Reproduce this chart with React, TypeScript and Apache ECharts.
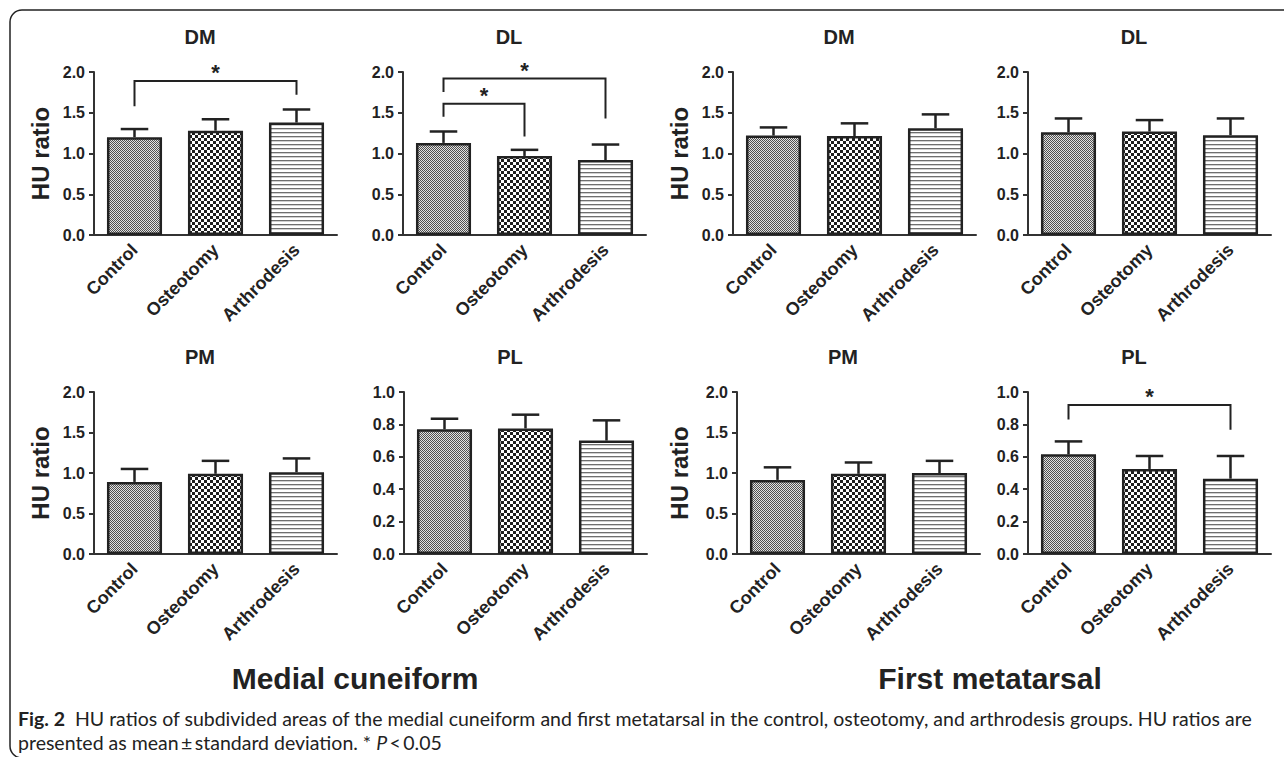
import React, { useEffect, useRef } from 'react';
import * as echarts from 'echarts';

const categories = ['Control', 'Osteotomy', 'Arthrodesis'];

// Medial cuneiform
const dmMedialMean = [1.2, 1.28, 1.38];
const dmMedialSd = [0.1, 0.14, 0.16];
const dlMedialMean = [1.13, 0.97, 0.92];
const dlMedialSd = [0.14, 0.075, 0.19];
const pmMedialMean = [0.89, 0.99, 1.01];
const pmMedialSd = [0.16, 0.16, 0.17];
const plMedialMean = [0.77, 0.775, 0.7];
const plMedialSd = [0.065, 0.085, 0.125];

// First metatarsal
const dmFirstMean = [1.22, 1.215, 1.31];
const dmFirstSd = [0.1, 0.155, 0.17];
const dlFirstMean = [1.26, 1.27, 1.225];
const dlFirstSd = [0.17, 0.14, 0.205];
const pmFirstMean = [0.915, 0.99, 1.0];
const pmFirstSd = [0.155, 0.14, 0.15];
const plFirstMean = [0.615, 0.525, 0.465];
const plFirstSd = [0.08, 0.08, 0.14];

// significance brackets: [fromIndex, toIndex, bracketLevel, leftLegEnd, rightLegEnd]
const dmMedialSig = [[0, 2, 1.89, 1.58, 1.72]];
const dlMedialSig = [
  [0, 2, 1.92, 1.755, 1.43],
  [0, 1, 1.61, 1.45, 1.21],
];
const plFirstSig = [[0, 2, 0.92, 0.83, 0.767]];

const yTicksWide = { max: 2, interval: 0.5 };
const yTicksNarrow = { max: 1, interval: 0.2 };

const FONT = "'Liberation Sans', Arial, sans-serif";
const CAP_FONT = 'Lato, sans-serif';
const INK = '#222';

function makePatterns() {
  const mk = (w: number, h: number, draw: (ctx: CanvasRenderingContext2D) => void) => {
    const c = document.createElement('canvas');
    c.width = w;
    c.height = h;
    const ctx = c.getContext('2d')!;
    draw(ctx);
    return { image: c, repeat: 'repeat', imageWidth: w, imageHeight: h } as any;
  };
  const fine = mk(2, 2, (ctx) => {
    ctx.fillStyle = '#e2e2e2';
    ctx.fillRect(0, 0, 2, 2);
    ctx.fillStyle = '#505050';
    ctx.fillRect(0, 0, 1, 1);
    ctx.fillRect(1, 1, 1, 1);
  });
  const checker = mk(6, 6, (ctx) => {
    ctx.fillStyle = '#ffffff';
    ctx.fillRect(0, 0, 6, 6);
    ctx.fillStyle = '#1e1e1e';
    ctx.fillRect(0, 0, 3, 3);
    ctx.fillRect(3, 3, 3, 3);
  });
  const stripes = mk(4, 4, (ctx) => {
    ctx.fillStyle = '#ffffff';
    ctx.fillRect(0, 0, 4, 4);
    ctx.fillStyle = '#6e6e6e';
    ctx.fillRect(0, 0, 4, 1);
    ctx.fillStyle = '#d0d0d0';
    ctx.fillRect(0, 1, 4, 1);
  });
  return [fine, checker, stripes];
}

export default function App() {
  const ref = useRef<HTMLDivElement>(null);

  useEffect(() => {
    if (!ref.current) return;
    const chart = echarts.init(ref.current, undefined, { renderer: 'svg' });
    const patterns = makePatterns();

    const panels = [
      { title: 'DM', left: 94, top: 72, h: 163, mean: dmMedialMean, sd: dmMedialSd, ticks: yTicksWide, sig: dmMedialSig, yName: 40 },
      { title: 'DL', left: 403, top: 72, h: 163, mean: dlMedialMean, sd: dlMedialSd, ticks: yTicksWide, sig: dlMedialSig, yName: null },
      { title: 'DM', left: 733, top: 72, h: 163, mean: dmFirstMean, sd: dmFirstSd, ticks: yTicksWide, sig: [], yName: 679 },
      { title: 'DL', left: 1028, top: 72, h: 163, mean: dlFirstMean, sd: dlFirstSd, ticks: yTicksWide, sig: [], yName: null },
      { title: 'PM', left: 94, top: 392, h: 162, mean: pmMedialMean, sd: pmMedialSd, ticks: yTicksWide, sig: [], yName: 40 },
      { title: 'PL', left: 404, top: 392, h: 162, mean: plMedialMean, sd: plMedialSd, ticks: yTicksNarrow, sig: [], yName: null },
      { title: 'PM', left: 737, top: 392, h: 162, mean: pmFirstMean, sd: pmFirstSd, ticks: yTicksWide, sig: [], yName: 679 },
      { title: 'PL', left: 1028, top: 392, h: 162, mean: plFirstMean, sd: plFirstSd, ticks: yTicksNarrow, sig: plFirstSig, yName: null },
    ];
    const W = 243;

    const grid: any[] = [];
    const xAxis: any[] = [];
    const yAxis: any[] = [];
    const series: any[] = [];
    const graphic: any[] = [];

    graphic.push({
      type: 'rect',
      shape: { x: 10, y: 10, width: 1320, height: 748, r: 12 },
      style: { fill: 'none', stroke: INK, lineWidth: 1.5 },
      silent: true,
    });

    panels.forEach((p, i) => {
      grid.push({ left: p.left, top: p.top, width: W, height: p.h });
      xAxis.push({
        type: 'category',
        gridIndex: i,
        data: categories,
        axisLine: { lineStyle: { color: '#333', width: 2 } },
        axisTick: { alignWithLabel: true, length: 6, lineStyle: { color: '#333', width: 2 } },
        axisLabel: {
          rotate: 45,
          interval: 0,
          margin: 12,
          fontSize: 18,
          fontWeight: 'bold',
          fontFamily: FONT,
          color: INK,
        },
      });
      yAxis.push({
        type: 'value',
        gridIndex: i,
        min: 0,
        max: p.ticks.max,
        interval: p.ticks.interval,
        splitLine: { show: false },
        axisLine: { show: true, lineStyle: { color: '#333', width: 2 } },
        axisTick: { show: true, length: 5, lineStyle: { color: '#333', width: 2 } },
        axisLabel: {
          margin: 9,
          fontSize: 16,
          fontWeight: 'bold',
          fontFamily: FONT,
          color: INK,
          formatter: (v: number) => v.toFixed(1),
        },
      });
      series.push({
        type: 'bar',
        xAxisIndex: i,
        yAxisIndex: i,
        barWidth: '68%',
        data: p.mean.map((v, j) => ({
          value: v,
          itemStyle: { color: patterns[j], borderColor: INK, borderWidth: 2.5 },
        })),
      });
      series.push({
        type: 'custom',
        xAxisIndex: i,
        yAxisIndex: i,
        z: 5,
        encode: { x: 0, y: [1, 2] },
        data: p.mean.map((m, j) => [j, m, m + p.sd[j]]),
        renderItem: (params: any, api: any) => {
          const base = api.coord([api.value(0), api.value(1)]);
          const top = api.coord([api.value(0), api.value(2)]);
          const half = api.size([1, 0])[0] * 0.17;
          return {
            type: 'group',
            children: [
              { type: 'line', shape: { x1: base[0], y1: base[1], x2: top[0], y2: top[1] }, style: { stroke: INK, lineWidth: 2.5 } },
              { type: 'line', shape: { x1: top[0] - half, y1: top[1], x2: top[0] + half, y2: top[1] }, style: { stroke: INK, lineWidth: 2.5 } },
            ],
          };
        },
      });
      if (p.sig.length) {
        series.push({
          type: 'custom',
          xAxisIndex: i,
          yAxisIndex: i,
          z: 6,
          encode: { x: [0, 1], y: [2, 3, 4] },
          data: p.sig,
          renderItem: (params: any, api: any) => {
            const a = api.coord([api.value(0), api.value(2)]);
            const b = api.coord([api.value(1), api.value(2)]);
            const la = api.coord([api.value(0), api.value(3)]);
            const rb = api.coord([api.value(1), api.value(4)]);
            return {
              type: 'group',
              children: [
                {
                  type: 'polyline',
                  shape: { points: [[a[0], la[1]], [a[0], a[1]], [b[0], b[1]], [b[0], rb[1]]] },
                  style: { stroke: INK, lineWidth: 2, fill: 'none' },
                },
                {
                  type: 'text',
                  x: (a[0] + b[0]) / 2,
                  y: a[1] - 8,
                  style: {
                    text: '*',
                    fontSize: 22,
                    fontWeight: 'bold',
                    fontFamily: FONT,
                    fill: INK,
                    align: 'center',
                    verticalAlign: 'middle',
                  },
                },
              ],
            };
          },
        });
      }
      graphic.push({
        type: 'text',
        x: p.left + 106,
        y: p.top - 35,
        style: {
          text: p.title,
          fontSize: 20,
          fontWeight: 'bold',
          fontFamily: FONT,
          fill: INK,
          align: 'center',
          verticalAlign: 'middle',
        },
      });
      if (p.yName != null) {
        graphic.push({
          type: 'text',
          x: p.yName,
          y: p.top + p.h / 2,
          rotation: Math.PI / 2,
          style: {
            text: 'HU ratio',
            fontSize: 24,
            fontWeight: 'bold',
            fontFamily: FONT,
            fill: INK,
            align: 'center',
            verticalAlign: 'middle',
          },
        });
      }
    });

    graphic.push({
      type: 'text',
      x: 355,
      y: 678,
      style: { text: 'Medial cuneiform', fontSize: 30, fontWeight: 'bold', fontFamily: FONT, fill: INK, align: 'center', verticalAlign: 'middle' },
    });
    graphic.push({
      type: 'text',
      x: 990,
      y: 678,
      style: { text: 'First metatarsal', fontSize: 30, fontWeight: 'bold', fontFamily: FONT, fill: INK, align: 'center', verticalAlign: 'middle' },
    });
    graphic.push({
      type: 'text',
      x: 18,
      y: 718,
      style: {
        text: '{b|Fig. 2}  HU ratios of subdivided areas of the medial cuneiform and first metatarsal in the control, osteotomy, and arthrodesis groups. HU ratios are',
        fontSize: 19.5,
        fontFamily: CAP_FONT,
        fill: INK,
        align: 'left',
        verticalAlign: 'middle',
        rich: { b: { fontWeight: 'bold', fontSize: 19.5, fontFamily: CAP_FONT, fill: INK } },
      },
    });
    graphic.push({
      type: 'text',
      x: 18,
      y: 742,
      style: {
        text: 'presented as mean\u2009\u00b1\u2009standard deviation. * {i|P}\u2009<\u20090.05',
        fontSize: 19.5,
        fontFamily: CAP_FONT,
        fill: INK,
        align: 'left',
        verticalAlign: 'middle',
        rich: { i: { fontStyle: 'italic', fontSize: 19.5, fontFamily: CAP_FONT, fill: INK } },
      },
    });

    chart.setOption({
      animation: false,
      backgroundColor: '#ffffff',
      grid,
      xAxis,
      yAxis,
      series,
      graphic,
    });

    return () => chart.dispose();
  }, []);

  return (
    <div
      ref={ref}
      style={{ position: 'fixed', left: 0, top: 0, width: 1284, height: 757, background: '#fff' }}
    />
  );
}
